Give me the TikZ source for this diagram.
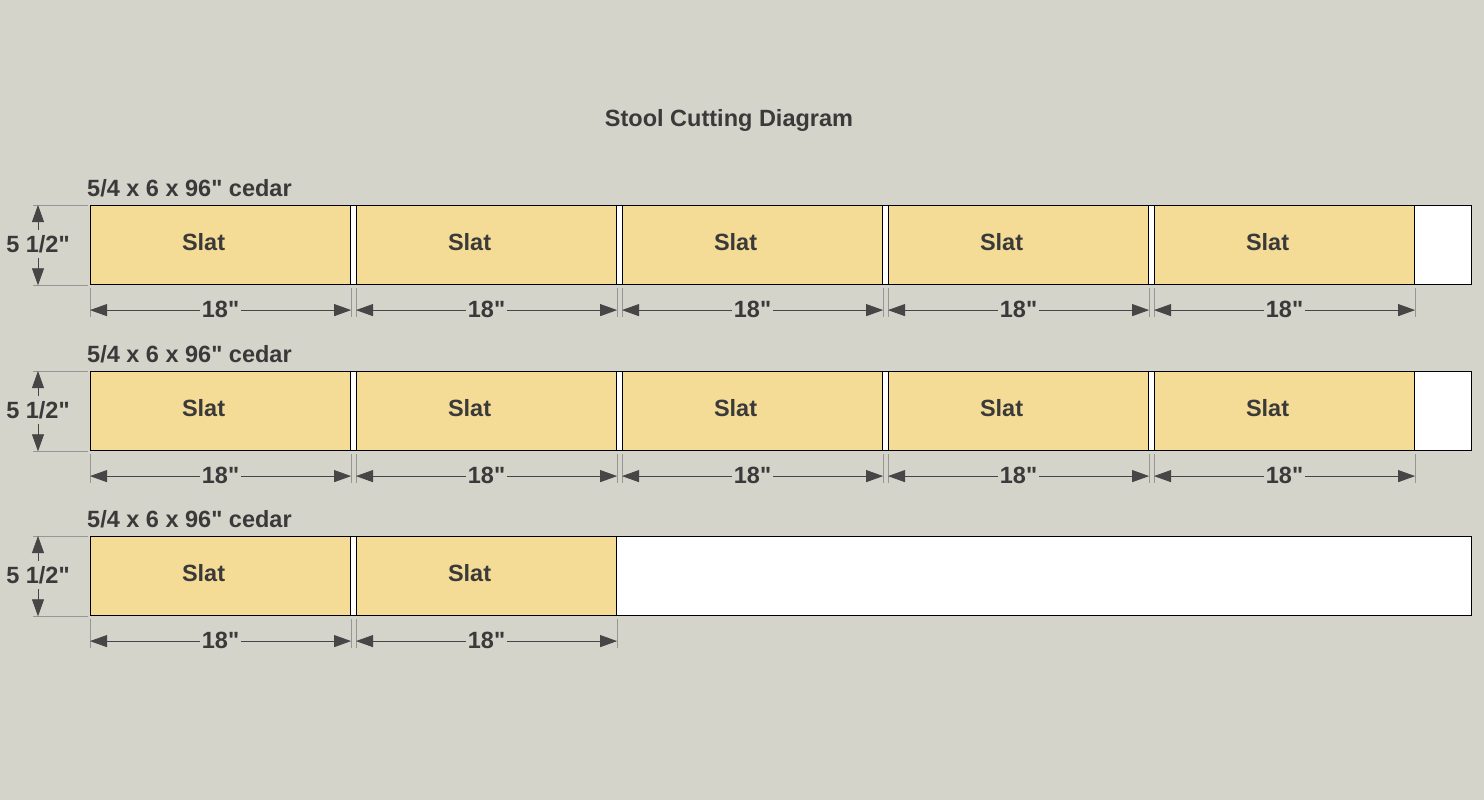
\documentclass[tikz,border=0pt]{standalone}
\usepackage{fontspec}
\newfontfamily\labfont{Liberation Sans}
\usetikzlibrary{arrows.meta,calc}
\definecolor{bg}{RGB}{212,212,203}
\definecolor{slatc}{RGB}{245,220,150}
\definecolor{txt}{RGB}{58,58,58}
\definecolor{dimc}{RGB}{70,70,70}
\definecolor{extc}{RGB}{150,150,150}
\tikzset{
  board/.style={draw=black, fill=white, line width=1.3pt, anchor=north west, minimum width=1381pt, minimum height=79pt, inner sep=0pt},
  slatbox/.style={draw=black, fill=slatc, line width=1.1pt, anchor=north west, minimum width=260pt, minimum height=79pt, inner sep=0pt},
  lab/.style={text=txt, font=\labfont\fontsize{23.5}{28}\selectfont\bfseries, inner sep=0pt},
  dimlab/.style={text=txt, font=\labfont\fontsize{23.5}{28}\selectfont\bfseries, fill=bg, inner xsep=2pt, inner ysep=1pt},
  ext/.style={draw=extc, line width=0.8pt},
  dimline/.style={draw=dimc, line width=0.8pt, {Triangle[length=17pt,width=12pt]}-{Triangle[length=17pt,width=12pt]}}
}
\begin{document}
\begin{tikzpicture}[x=1pt,y=-1pt]
\useasboundingbox[fill=bg] (0,0) rectangle (1484,800);
\node[lab, anchor=base] (title) at (729,126) {Stool Cutting Diagram};
\foreach \r/\y/\n in {1/205/5, 2/371/5, 3/536/2}{
  \node[board] (b\r) at (90,\y) {};
  \node[lab, anchor=base west] (h\r) at (87,{\y-9}) {5/4 x 6 x 96" cedar};
  % left height dimension
  \draw[ext] ($(b\r.north west)+(-57,0)$) -- ($(b\r.north west)+(-2,0)$);
  \draw[ext] ($(b\r.south west)+(-57,0)$) -- ($(b\r.south west)+(-2,0)$);
  \coordinate (ht\r) at ($(b\r.north west)+(-52,0)$);
  \coordinate (hb\r) at ($(b\r.south west)+(-52,0)$);
  \draw[dimline] (ht\r) -- node[dimlab, inner xsep=0pt, inner ysep=5pt, yshift=1pt] (hl\r) {5 1/2"} (hb\r);
  \foreach \i in {1,...,\n}{
    \node[slatbox] (s\r-\i) at ({90+266*(\i-1)},\y) {};
    \node[lab] (t\r-\i) at ($(s\r-\i.center)+(-17,-2.5)$) {Slat};
    \draw[ext] ($(s\r-\i.south west)+(0,3)$) -- ($(s\r-\i.south west)+(0,32)$);
    \draw[ext] ($(s\r-\i.south east)+(0,3)$) -- ($(s\r-\i.south east)+(0,32)$);
    \coordinate (dl\r-\i) at ($(s\r-\i.south west)+(0,25)$);
    \coordinate (dr\r-\i) at ($(s\r-\i.south east)+(0,25)$);
    \draw[dimline] (dl\r-\i) -- node[dimlab, yshift=1pt] (d\r-\i) {18"} (dr\r-\i);
  }
}
\end{tikzpicture}
\end{document}
